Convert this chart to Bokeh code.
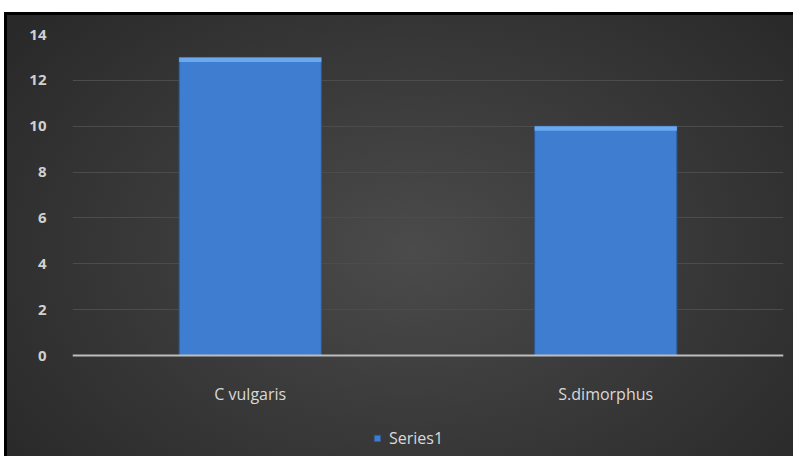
from bokeh.plotting import figure
from bokeh.models import Legend, LegendItem, ColumnDataSource, FixedTicker
from bokeh.embed import file_html
from bokeh.resources import INLINE

categories = ["C vulgaris", "S.dimorphus"]
values = [13, 10]
series_name = "Series1"
y_ticks = [0, 2, 4, 6, 8, 10, 12, 14]

src = ColumnDataSource(data=dict(cat=categories, val=values,
                                 hl=[v - 0.2 for v in values]))

# layout: frame from y=34 (value 14) to the bottom; value 0 sits at y=355
W, H = 793, 456
TOP, ZERO_Y = 34, 355
px_per_unit = (ZERO_Y - TOP) / 14.0
y_start = -(H - ZERO_Y) / px_per_unit

p = figure(x_range=categories, y_range=(y_start, 14), output_backend="svg",
           toolbar_location=None, width=W, height=H,
           min_border_left=72, min_border_right=10, min_border_top=TOP,
           min_border_bottom=0)
p.border_fill_color = None
p.background_fill_color = None
p.outline_line_color = None
p.styles = {
    "background-image": "radial-gradient(ellipse 70% 85% at 52% 55%, #4b4b4b 0%, #3a3a3a 45%, #262626 100%)",
    "box-shadow": "inset 0 12px 0 0 #ffffff, inset 4px 0 0 0 #ffffff, inset 0 15px 0 0 #000000, inset 7px 0 0 0 #000000",
}

r = p.vbar(x="cat", top="val", width=0.4, source=src,
           fill_color="#3f7dd0", line_color="#2c5a96", line_width=1)
p.vbar(x="cat", top="val", bottom="hl", width=0.4, source=src,
       fill_color="#6aa9f0", line_color=None)

p.yaxis.ticker = FixedTicker(ticks=y_ticks)
p.ygrid.ticker = FixedTicker(ticks=y_ticks[1:-1])
p.ygrid.grid_line_color = "#4c4c4c"
p.ygrid.grid_line_width = 1
p.xgrid.grid_line_color = None

p.yaxis.axis_line_color = None
p.yaxis.major_tick_line_color = None
p.yaxis.minor_tick_line_color = None
p.yaxis.major_label_text_color = "#d0d0d0"
p.yaxis.major_label_text_font = "Open Sans"
p.yaxis.major_label_text_font_size = "15px"
p.yaxis.major_label_text_font_style = "bold"
p.yaxis.major_label_standoff = 20

p.xaxis.fixed_location = 0
p.xaxis.axis_line_color = "#bdbdbd"
p.xaxis.axis_line_width = 2
p.xaxis.major_tick_line_color = None
p.xaxis.minor_tick_line_color = None
p.xaxis.major_label_text_color = "#d9d9d9"
p.xaxis.major_label_text_font = "Open Sans"
p.xaxis.major_label_text_font_size = "16px"
p.xaxis.major_label_standoff = 21

legend = Legend(items=[LegendItem(label=series_name, renderers=[r])],
                location=(301, 7), orientation="horizontal",
                background_fill_alpha=0, border_line_color=None,
                label_text_color="#d9d9d9", label_text_font="Open Sans",
                label_text_font_size="16px", glyph_width=8, glyph_height=8,
                label_height=16, padding=0, margin=0, label_standoff=8)
p.add_layout(legend, "center")

open("out.html", "w").write(file_html(p, INLINE))
